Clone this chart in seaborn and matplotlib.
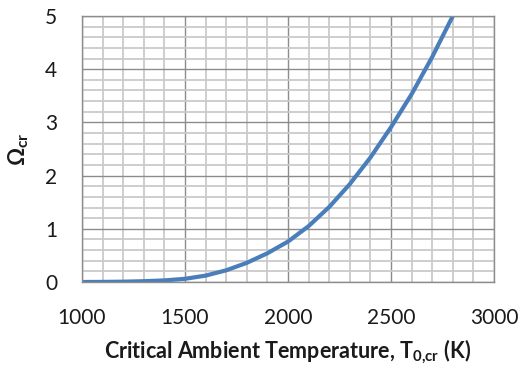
import matplotlib
matplotlib.use("Agg")
import matplotlib.pyplot as plt
import seaborn as sns
import pandas as pd
from matplotlib.ticker import MultipleLocator

# Data
temperature_K = [1000, 1100, 1200, 1300, 1400, 1500, 1600, 1700, 1800, 1900,
                 2000, 2100, 2200, 2300, 2400, 2500, 2600, 2700, 2800]
omega_cr = [0.000, 0.002, 0.006, 0.015, 0.03, 0.06, 0.12, 0.22, 0.36, 0.54,
            0.76, 1.05, 1.41, 1.84, 2.34, 2.91, 3.53, 4.23, 5.00]
x_ticks = [1000, 1500, 2000, 2500, 3000]
y_ticks = [0, 1, 2, 3, 4, 5]

sns.set_style("white")
plt.rcParams['font.family'] = ['Lato', 'DejaVu Sans']
plt.rcParams['mathtext.fontset'] = 'custom'
plt.rcParams['mathtext.rm'] = 'Lato'
plt.rcParams['mathtext.bf'] = 'Lato:bold'
plt.rcParams['mathtext.default'] = 'bf'

df = pd.DataFrame({"T": temperature_K, "Omega": omega_cr})

fig = plt.figure(figsize=(5.25, 3.71), dpi=100)
ax = fig.add_axes([82/525, 1 - 282/371, (494-82)/525, (282-16)/371])

sns.lineplot(data=df, x="T", y="Omega", ax=ax, color="#4A7EBB", linewidth=3.0)

ax.set_xlim(1000, 3000)
ax.set_ylim(0, 5)
ax.set_xticks(x_ticks)
ax.set_yticks(y_ticks)
ax.xaxis.set_minor_locator(MultipleLocator(100))
ax.yaxis.set_minor_locator(MultipleLocator(0.2))
ax.grid(which='minor', color='#CACACA', linewidth=1.3)
ax.grid(which='major', color='#8C8C8C', linewidth=1.0)
ax.set_axisbelow(True)
for s in ax.spines.values():
    s.set_color('#8C8C8C')
    s.set_linewidth(1.0)
ax.tick_params(axis='both', which='major', direction='out', length=8, width=1.0,
               color='#8C8C8C', labelsize=15, labelcolor='#1a1a1a')
ax.tick_params(axis='x', pad=11)
ax.tick_params(axis='y', pad=10)
ax.tick_params(which='minor', length=0)

ax.set_xlabel(r'Critical Ambient Temperature, T$_{0{,}cr}$ (K)', fontsize=15.5,
              fontweight='bold', labelpad=7, color='#1a1a1a')
ax.set_ylabel(r'$\Omega_{cr}$', fontsize=16, fontweight='bold', labelpad=10,
              color='#1a1a1a')

fig.savefig("out.png", dpi=100)
